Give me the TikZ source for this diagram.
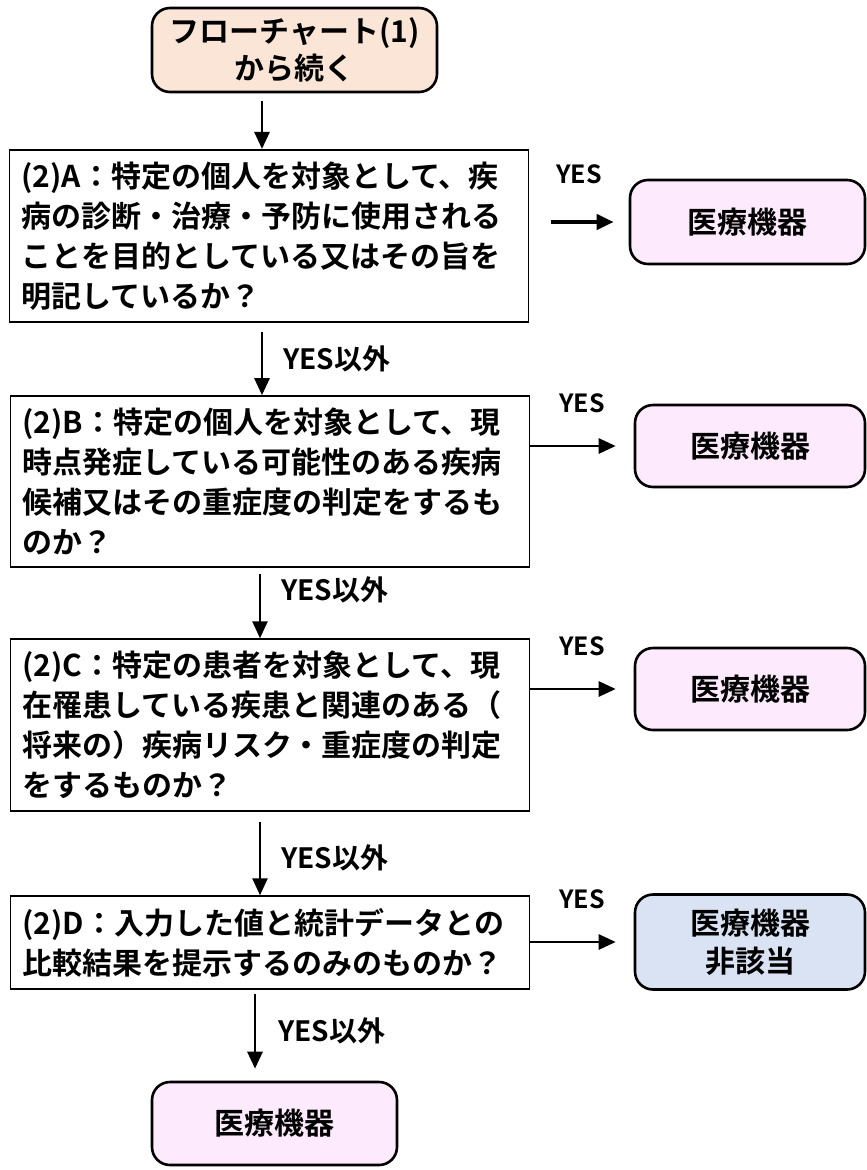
\documentclass[tikz,border=0pt]{standalone}
\usepackage{fontspec}
\setmainfont{Noto Sans CJK JP}[BoldFont={Noto Sans CJK JP Bold}]
\usetikzlibrary{arrows.meta}
\tikzset{>={Triangle[width=15pt,length=17pt]}}
\definecolor{startfill}{HTML}{FBE5D6}
\definecolor{devfill}{HTML}{FDEBFD}
\definecolor{notfill}{HTML}{DAE3F3}
\tikzset{
  question/.style = {draw, line width=1.6pt, text width=495pt, inner sep=12pt,
                     align=left, font=\bfseries\fontsize{30}{40}\selectfont},
  result/.style   = {draw, line width=2.6pt, rounded corners=18pt, fill=devfill,
                     minimum width=230pt, minimum height=82pt, align=center,
                     font=\bfseries\fontsize{30}{38}\selectfont},
  flow/.style     = {->, line width=2.7pt},
  yeslabel/.style = {inner sep=0pt, font=\bfseries\fontsize{25}{25}\selectfont},
  nolabel/.style  = {inner sep=0pt, font=\bfseries\fontsize{28}{28}\selectfont},
}

\begin{document}
\begin{tikzpicture}[x=1pt, y=-1pt]
		\useasboundingbox (0,0) rectangle (867,1170);
		% start and questions
		\node (start) [result, fill=startfill, minimum width=285pt, minimum height=84pt,
		  font=\bfseries\fontsize{30}{37}\selectfont] at (294.5,50) {フローチャート(1)\\から続く};
		\node (qa) [question, minimum height=168pt] at (269,236)
		  {(2)A：特定の個人を対象として、疾\\病の診断・治療・予防に使用される\\ことを目的としている又はその旨を\\明記しているか？};
		\node (qb) [question, minimum height=169pt] at (270,481.5)
		  {(2)B：特定の個人を対象として、現\\時点発症している可能性のある疾病\\候補又はその重症度の判定をするも\\のか？};
		\node (qc) [question, minimum height=160pt] at (270,725)
		  {(2)C：特定の患者を対象として、現\\在罹患している疾患と関連のある（\\将来の）疾病リスク・重症度の判定\\をするものか？};
		\node (qd) [question, minimum height=85pt] at (270,942.5)
		  {(2)D：入力した値と統計データとの\\比較結果を提示するのみのものか？};
		% results
		\node (ra) [result, minimum width=235pt, minimum height=84pt] at (747.5,222) {医療機器};
		\node (rb) [result] at (750,446) {医療機器};
		\node (rc) [result] at (750,689) {医療機器};
		\node (rd) [result, fill=notfill, minimum height=95pt] at (750,942) {医療機器\\非該当};
		\node (end) [result, minimum width=245pt, minimum height=83pt] at (274.5,1123.5) {医療機器};
		% YES
		\draw[flow, line width=4pt, shorten <=22pt, shorten >=15pt] (qa.east |- ra.west) -- (ra.west)
		  node [yeslabel, midway, above=36pt] {YES};
		\draw[flow, shorten >=18pt] (qb.east |- rb.west) -- (rb.west)
		  node [yeslabel, midway, above=32pt] {YES};
		\draw[flow, shorten >=18pt] (qc.east |- rc.west) -- (rc.west)
		  node [yeslabel, midway, above=32pt] {YES};
		\draw[flow, shorten >=18pt] (qd.east |- rd.west) -- (rd.west)
		  node [yeslabel, midway, above=32pt] {YES};
		% YES以外
		\draw[flow, shorten <=8pt] ([xshift=-7pt]qa.north |- start.south) -- ([xshift=-7pt]qa.north);
		\draw[flow, shorten <=9pt] ([xshift=-7pt]qa.south) -- ([xshift=-7pt]qa.south |- qb.north)
		  node [nolabel, pos=0.5, right=20pt] {YES以外};
		\draw[flow, shorten <=6pt] ([xshift=-10pt]qb.south) -- ([xshift=-10pt]qb.south |- qc.north)
		  node [nolabel, pos=0.32, right=20pt] {YES以外};
		\draw[flow, shorten <=10pt] ([xshift=-10pt]qc.south) -- ([xshift=-10pt]qc.south |- qd.north)
		  node [nolabel, pos=0.55, right=20pt] {YES以外};
		\draw[flow, shorten <=4pt, shorten >=12pt] ([xshift=-15pt]qd.south) -- ([xshift=-15pt]qd.south |- end.north)
		  node [nolabel, pos=0.45, right=22pt] {YES以外};
\end{tikzpicture}
\end{document}
